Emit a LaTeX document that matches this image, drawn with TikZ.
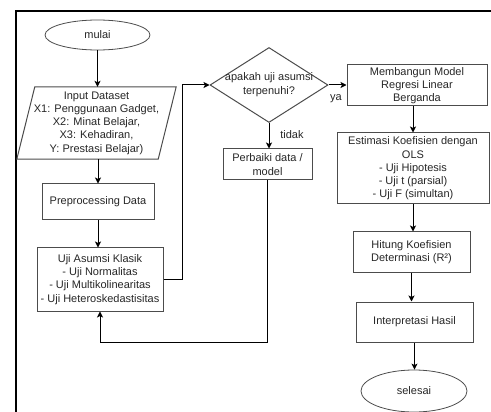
\documentclass[tikz,border=0pt]{standalone}
\usepackage{fontspec}
\setmainfont{Liberation Sans}
\usetikzlibrary{shapes.geometric,arrows.meta}
\begin{document}
\begin{tikzpicture}[x=1pt,y=-1pt,
  every node/.style={font=\fontsize{11}{13.3}\selectfont, text=black!85},
  box/.style={draw=black!70, line width=1pt, rectangle, inner sep=0pt, align=center},
  term/.style={draw=black!70, line width=0.8pt, ellipse, inner sep=0pt},
  arr/.style={draw=black, line width=1pt, -{Stealth[length=6pt,width=6pt,inset=1.5pt]}},
  lbl/.style={inner sep=0pt}
]
\useasboundingbox (0,0) rectangle (491,412);
\draw[line width=2pt] (16,413) -- (16,11) -- (492,11);

\node[term, minimum width=105pt, minimum height=30pt] (mulai) at (97.5,35) {mulai};
\node[inner sep=0pt, minimum width=159pt, minimum height=72pt, align=center] (in) at (96.5,123)
  {Input Dataset\\X1: Penggunaan Gadget,\\X2: Minat Belajar,\\X3: Kehadiran,\\Y: Prestasi Belajar)};
\draw[draw=black!70, line width=1pt] ([xshift=18pt]in.north west) -- (in.north east)
  -- ([xshift=-18pt]in.south east) -- (in.south west) -- cycle;
\node[box, minimum width=112pt, minimum height=36pt] (pre) at (98,202) {Preprocessing Data};
\node[box, minimum width=126pt, minimum height=63pt] (uji) at (100,279.5)
  {Uji Asumsi Klasik\\- Uji Normalitas\\- Uji Multikolinearitas\\- Uji Heteroskedastisitas};
\node[draw=black!70, line width=1pt, diamond, minimum width=118pt, minimum height=75pt, inner sep=0pt,
  label={[align=center, inner sep=0pt, font=\fontsize{11}{14}\selectfont, text=black!85]center:apakah uji asumsi\\terpenuhi?}] (dec) at (269,85) {};
\node[box, minimum width=89pt, minimum height=31pt] (per) at (267.5,164.5) {Perbaiki data /\\model};
\node[box, minimum width=140pt, minimum height=41pt] (mem) at (417,85.5)
  {Membangun Model\\Regresi Linear\\Berganda};
\node[box, minimum width=152pt, minimum height=71pt] (est) at (413,168.5)
  {Estimasi Koefisien dengan\\OLS\\- Uji Hipotesis\\- Uji t (parsial)\\- Uji F (simultan)};
\node[box, minimum width=117pt, minimum height=40pt] (hit) at (411.5,252)
  {Hitung Koefisien\\Determinasi (R²)};
\node[box, minimum width=117pt, minimum height=40pt] (int) at (414.5,322) {Interpretasi Hasil};
\node[term, minimum width=106pt, minimum height=42pt] (sel) at (414,391) {selesai};

\draw[arr] (mulai.south) -- (mulai.south |- in.north);
\draw[arr] (in.south -| pre.north) -- (pre.north);
\draw[arr] (pre.south) -- (pre.south |- uji.north);
\draw[arr] (uji.east) -- ++(19,0) |- (dec.west);
\draw[arr] (dec.east) -- (dec.east -| mem.west);
\draw[arr] (dec.south) -- (dec.south |- per.north);
\draw[arr] (mem.south -| est.north) -- (est.north);
\draw[arr] (est.south) -- (est.south |- hit.north);
\draw[arr] (hit.south) -- (hit.south |- int.north);
\draw[arr] (int.south) -- (int.south |- sel.north);
\draw[arr] (per.south) -- ++(0,162) -| (uji.south);

\node[lbl] (ya) at (336,99) {ya};
\node[lbl] (tidak) at (292,135) {tidak};
\end{tikzpicture}
\end{document}
